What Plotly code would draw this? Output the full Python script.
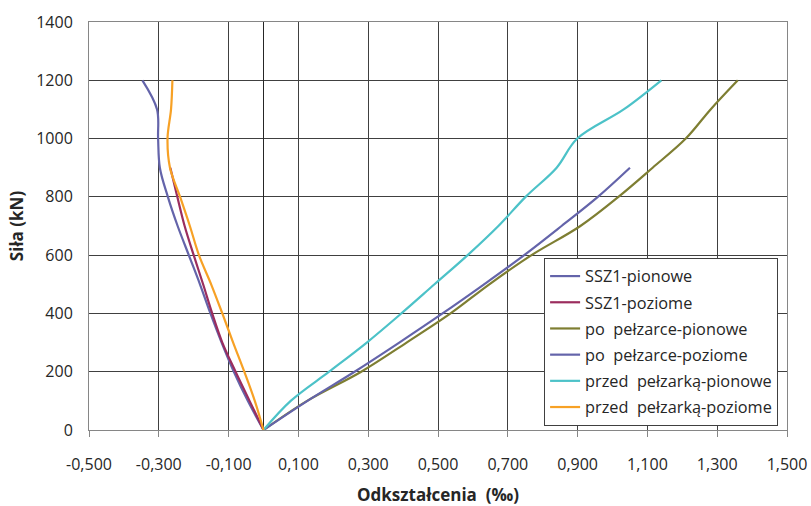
import plotly.graph_objects as go

# Loads (kN)
load_full = [0, 100, 200, 300, 400, 500, 600, 700, 800, 900, 1000, 1100, 1200]
load_900 = [0, 100, 200, 300, 400, 500, 600, 700, 800, 900]

# Strains (per mille)
ssz1_pionowe = [0, -0.045, -0.085, -0.120, -0.152, -0.182, -0.214, -0.246, -0.274, -0.297, -0.302, -0.305, -0.347]
ssz1_poziome = [0, -0.040, -0.080, -0.118, -0.147, -0.173, -0.200, -0.226, -0.247, -0.267]
po_pionowe = [0, 0.125, 0.280, 0.410, 0.536, 0.647, 0.768, 0.908, 1.017, 1.115, 1.210, 1.281, 1.359]
po_poziome = [0, 0.126, 0.261, 0.389, 0.513, 0.632, 0.747, 0.854, 0.958, 1.050]
przed_pionowe = [0, 0.078, 0.188, 0.296, 0.395, 0.490, 0.585, 0.673, 0.751, 0.840, 0.899, 1.032, 1.140]
przed_poziome = [0, -0.025, -0.055, -0.087, -0.118, -0.150, -0.185, -0.211, -0.239, -0.268, -0.275, -0.265, -0.261]

names = ["SSZ1-pionowe", "SSZ1-poziome", "po\u00a0 pełzarce-pionowe", "po\u00a0 pełzarce-poziome",
         "przed\u00a0 pełzarką-pionowe", "przed\u00a0 pełzarką-poziome"]
colors = ["#6464AA", "#9B2D5E", "#7E7E32", "#6464AA", "#4CC2C8", "#F7A125"]
series_x = [ssz1_pionowe, ssz1_poziome, po_pionowe, po_poziome, przed_pionowe, przed_poziome]
series_y = [load_full, load_900, load_full, load_900, load_full, load_full]

x_tickvals = [-0.5, -0.3, -0.1, 0.1, 0.3, 0.5, 0.7, 0.9, 1.1, 1.3, 1.5]
x_ticktext = ["-0,500", "-0,300", "-0,100", "0,100", "0,300", "0,500", "0,700", "0,900", "1,100", "1,300", "1,500"]
y_tickvals = [0, 200, 400, 600, 800, 1000, 1200, 1400]
y_ticktext = ["0", "200", "400", "600", "800", "1000", "1200", "1400"]

fig = go.Figure()
for i, (nm, c, xs, ys) in enumerate(zip(names, colors, series_x, series_y)):
    fig.add_trace(go.Scatter(
        x=xs, y=ys, name=nm, mode="lines", legendgroup=f"g{i}",
        line=dict(color=c, width=2.2, shape="spline", smoothing=1.0),
    ))

fig.update_layout(
    width=811, height=506,
    margin=dict(l=89, r=24, t=22, b=76),
    paper_bgcolor="white", plot_bgcolor="white",
    font=dict(family="Open Sans", size=16, color="#262626"),
    showlegend=True,
    legend=dict(
        x=0.652, y=0.4216, xanchor="left", yanchor="top",
        bgcolor="white", bordercolor="#404040", borderwidth=1,
        font=dict(family="Open Sans", size=16.3, color="#262626"),
        tracegroupgap=2, itemwidth=30,
    ),
)
fig.update_xaxes(
    range=[-0.5, 1.5], tickvals=x_tickvals, ticktext=x_ticktext,
    showgrid=True, gridcolor="#404040", gridwidth=1,
    zeroline=True, zerolinecolor="#262626", zerolinewidth=1,
    showline=True, linecolor="#868686", linewidth=1, mirror=True,
    ticks="outside", ticklen=6, tickcolor="#868686", ticklabelstandoff=14,
    automargin=False,
    title=dict(text="<b>Odkształcenia\u00a0 (‰)</b>", font=dict(size=17), standoff=14),
)
fig.update_yaxes(
    range=[0, 1400], tickvals=y_tickvals, ticktext=y_ticktext,
    showgrid=True, gridcolor="#404040", gridwidth=1,
    zeroline=False,
    showline=True, linecolor="#868686", linewidth=1, mirror=True,
    ticks="", ticklabelstandoff=12, automargin=False,
    title=dict(text="<b>Siła (kN)</b>", font=dict(size=17), standoff=8),
)

fig.write_html("out.html")
